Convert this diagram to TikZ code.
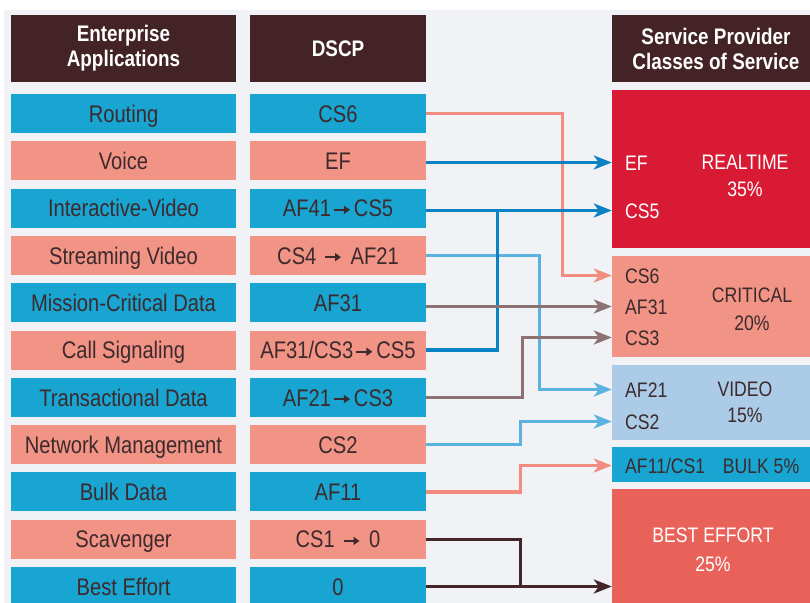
\documentclass[tikz,border=0pt]{standalone}
\usepackage{fontspec}
\setmainfont{Liberation Sans}[FakeStretch=0.84]
\usetikzlibrary{arrows.meta}

\definecolor{bggray}{HTML}{F1F2F6}
\definecolor{headbrown}{HTML}{432325}
\definecolor{rowblue}{HTML}{18A5D1}
\definecolor{rowsalmon}{HTML}{F19385}
\definecolor{rtred}{HTML}{D91A34}
\definecolor{vidblue}{HTML}{ABCBE7}
\definecolor{beorange}{HTML}{E8625A}
\definecolor{linedblue}{HTML}{0B82C4}
\definecolor{linelblue}{HTML}{5CB2DE}
\definecolor{linesal}{HTML}{F18C7F}
\definecolor{linegray}{HTML}{8C7272}
\definecolor{linebrown}{HTML}{43252A}
\definecolor{textdark}{HTML}{3D2A2D}

% small arrow used inside the DSCP labels
\newcommand{\tto}{\hspace{2pt}\tikz[x=1pt,y=1pt,baseline=0pt]\draw[textdark,line width=2pt,-{Triangle[length=6pt,width=8pt]}] (0,7) -- (16,7);\hspace{3pt}}

\begin{document}
\begin{tikzpicture}[x=1pt,y=-1pt,
    app/.style={rectangle,inner sep=0pt,minimum width=225pt,minimum height=39pt,
      text height=17.5pt,text depth=0pt,text=textdark,font=\fontsize{24}{28}\selectfont},
    dscp/.style={app,minimum width=176pt},
    head/.style={rectangle,fill=headbrown,inner sep=0pt,minimum height=67pt,text=white,
      align=center,font=\bfseries\fontsize{22.5}{25}\selectfont},
    cos/.style={rectangle,inner sep=0pt,minimum width=208pt},
    cosin/.style={anchor=west,inner sep=0pt,text height=15pt,text depth=0pt,
      text=textdark,font=\fontsize{21}{27}\selectfont},
    cosname/.style={anchor=north,inner sep=0pt,align=center,text=textdark,
      font=\fontsize{21}{27}\selectfont},
    conn/.style={line width=3.2pt},
    arr/.style={-{Stealth[length=18pt,width=14pt,inset=5pt]}}]
  \useasboundingbox (0,0) rectangle (810,602);
  \fill[bggray] (4,10) rectangle (812,604);

  % headers
  \node[head,minimum width=225pt] (happ) at (123.5,48.5) {Enterprise\\Applications};
  \node[head,minimum width=176pt] (hdscp) at (338,48.5) {DSCP};
  \node[head,minimum width=208pt] (hcos) at (716,48.5) {Service Provider\\Classes of Service};

  % applications and their markings
  \node[app,fill=rowblue] (a0) at (123.5,113.5) {Routing};
  \node[dscp,fill=rowblue] (d0) at (338,113.5) {CS6};
  \node[app,fill=rowsalmon] (a1) at (123.5,160.8) {Voice};
  \node[dscp,fill=rowsalmon] (d1) at (338,160.8) {EF};
  \node[app,fill=rowblue] (a2) at (123.5,208.1) {Interactive-Video};
  \node[dscp,fill=rowblue] (d2) at (338,208.1) {AF41\tto CS5};
  \node[app,fill=rowsalmon] (a3) at (123.5,255.4) {Streaming Video};
  \node[dscp,fill=rowsalmon] (d3) at (338,255.4) {CS4 \tto{} AF21};
  \node[app,fill=rowblue] (a4) at (123.5,302.7) {Mission-Critical Data};
  \node[dscp,fill=rowblue] (d4) at (338,302.7) {AF31};
  \node[app,fill=rowsalmon] (a5) at (123.5,350) {Call Signaling};
  \node[dscp,fill=rowsalmon] (d5) at (338,350) {AF31/CS3\tto CS5};
  \node[app,fill=rowblue] (a6) at (123.5,397.3) {Transactional Data};
  \node[dscp,fill=rowblue] (d6) at (338,397.3) {AF21\tto CS3};
  \node[app,fill=rowsalmon] (a7) at (123.5,444.6) {Network Management};
  \node[dscp,fill=rowsalmon] (d7) at (338,444.6) {CS2};
  \node[app,fill=rowblue] (a8) at (123.5,491.9) {Bulk Data};
  \node[dscp,fill=rowblue] (d8) at (338,491.9) {AF11};
  \node[app,fill=rowsalmon] (a9) at (123.5,539.2) {Scavenger};
  \node[dscp,fill=rowsalmon] (d9) at (338,539.2) {CS1 \tto{} 0};
  \node[app,fill=rowblue] (a10) at (123.5,586.5) {Best Effort};
  \node[dscp,fill=rowblue] (d10) at (338,586.5) {0};

  % service provider classes
  \node[cos,fill=rtred,minimum height=158pt] (rt) at (716,169) {};
  \node[cos,fill=rowsalmon,minimum height=101pt] (crit) at (716,306.5) {};
  \node[cos,fill=vidblue,minimum height=75pt] (vid) at (716,402.5) {};
  \node[cos,fill=rowblue,minimum height=35pt] (bulk) at (716,464.5) {};
  \node[cos,fill=beorange,minimum height=121pt] (be) at (716,549.5) {};

  \node[cosin,text=white] (lef) at (625,162.5) {EF};
  \node[cosin,text=white] (lcs5) at (625,210.5) {CS5};
  \node[cosin] (lcs6) at (625,275.5) {CS6};
  \node[cosin] (laf31) at (625,306.5) {AF31};
  \node[cosin] (lcs3) at (625,337.5) {CS3};
  \node[cosin] (laf21) at (625,389.5) {AF21};
  \node[cosin] (lcs2) at (625,421.5) {CS2};
  \node[cosin] (laf11) at (625,465.5) {AF11/CS1};

  \node[cosname,text=white] (nrt) at (745,155) {REALTIME\\35\%};
  \node[cosname] (ncrit) at (752,288) {CRITICAL\\[1pt]20\%};
  \node[cosname] (nvid) at (745,382) {VIDEO\\[-1pt]15\%};
  \node[cosin,anchor=center] (nbulk) at (761,465.5) {BULK 5\%};
  \node[cosname,text=white] (nbe) at (713,528) {BEST EFFORT\\[2pt]25\%};

  % markings to classes
  \begin{scope}[conn]
    \draw[linesal,arr] (d0.east) -- ++(136,0) |- (lcs6.west -| crit.west);
    \draw[linelblue,arr] (d3.east) -- ++(113,0) |- (laf21.west -| vid.west);
    \draw[linelblue,arr] (d7.east) -- ++(94,0) |- (lcs2.west -| vid.west);
    \draw[linedblue,arr] (d1.east |- lef.west) -- (lef.west -| rt.west);
    \draw[linedblue,arr] (d2.east |- lcs5.west) -- (lcs5.west -| rt.west);
    \draw[linedblue] (d5.east) -| ([xshift=71pt]d2.east |- lcs5.west);
    \draw[linegray,arr] (d4.east |- laf31.west) -- (laf31.west -| crit.west);
    \draw[linegray,arr] (d6.east) -- ++(96,0) |- (lcs3.west -| crit.west);
    \draw[linesal,arr] (d8.east) -- ++(94,0) |- (laf11.west -| bulk.west);
    \draw[linebrown] (d9.east) -| ([xshift=94pt]d10.east);
    \draw[linebrown,arr] (d10.east) -- (d10.east -| be.west);
  \end{scope}
\end{tikzpicture}
\end{document}
